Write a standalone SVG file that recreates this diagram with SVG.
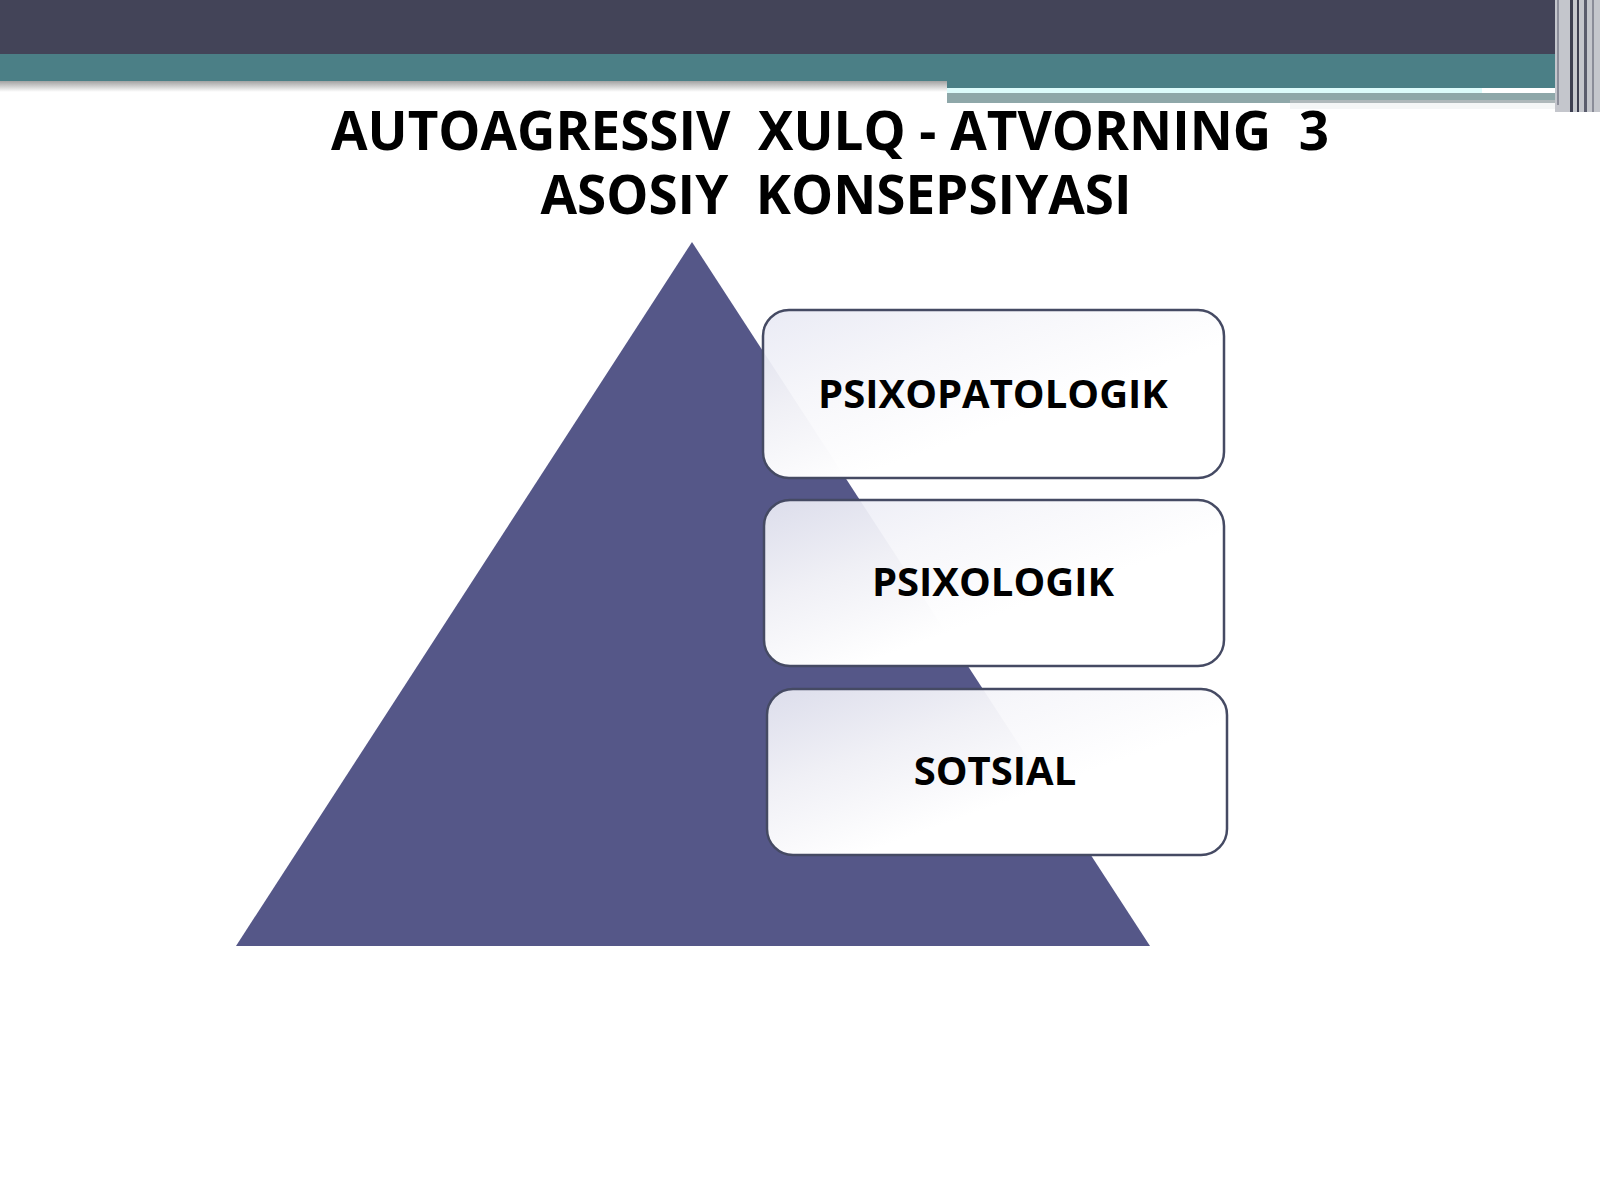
<svg xmlns="http://www.w3.org/2000/svg" width="1600" height="1200" viewBox="0 0 1600 1200">
<style>
.title{font-family:"Open Sans","Noto Sans","DejaVu Sans",sans-serif;font-weight:bold;font-size:53px;fill:#000;text-anchor:middle;white-space:pre}
.lbl{font-family:"Open Sans","Noto Sans","DejaVu Sans",sans-serif;font-weight:bold;font-size:40px;fill:#000;text-anchor:middle}
.box{stroke:#454a63;stroke-width:2.5;fill:url(#boxg)}
</style>
<defs>
<linearGradient id="boxg" x1="0" y1="0" x2="1" y2="1">
<stop offset="0" stop-color="#e8e9f4" stop-opacity="0.92"/>
<stop offset="0.3" stop-color="#f6f6fa" stop-opacity="0.96"/>
<stop offset="0.6" stop-color="#ffffff" stop-opacity="1"/>
<stop offset="1" stop-color="#ffffff" stop-opacity="1"/>
</linearGradient>
<linearGradient id="shadow" x1="0" y1="0" x2="0" y2="1">
<stop offset="0" stop-color="#9a9a9a"/>
<stop offset="1" stop-color="#ffffff"/>
</linearGradient>
</defs>
<rect width="1600" height="1200" fill="#ffffff"/>
<g id="header">
<rect x="0" y="80" width="947" height="12" fill="url(#shadow)"/>
<rect x="0" y="0" width="1600" height="54" fill="#434458"/>
<rect x="0" y="54" width="1600" height="27" fill="#4b7f86"/>
<rect x="947" y="80" width="610" height="8" fill="#4a7f86"/>
<rect x="947" y="88" width="535" height="5" fill="#dcfbfb"/>
<rect x="947" y="93" width="610" height="10" fill="#8ea7a9"/>
<rect x="1290" y="100" width="267" height="3" fill="#aeb8ba"/>
<rect x="1290" y="103" width="267" height="6" fill="#f4f6f6"/>
<rect x="1555" y="0" width="45" height="112" fill="#c4c6cc"/>
<rect x="1557" y="0" width="2" height="105" fill="#8c8e9a"/>
<rect x="1570" y="0" width="3" height="112" fill="#3c3e50"/>
<rect x="1577" y="0" width="2" height="112" fill="#3c3e50"/>
<rect x="1584" y="0" width="3" height="112" fill="#5a5c6c"/>
<rect x="1592" y="0" width="2" height="112" fill="#8a8c98"/>
</g>
<g id="title">
<text class="title" xml:space="preserve" x="830" y="150">AUTOAGRESSIV  XULQ - ATVORNING  3</text>
<text class="title" xml:space="preserve" x="836" y="214">ASOSIY  KONSEPSIYASI</text>
</g>
<g id="pyramid">
<polygon points="692,242 1150,946 236,946" fill="#555788"/>
</g>
<g id="connectors"></g>
<g id="node-psixopatologik">
<rect class="box" x="763" y="310" width="461" height="168" rx="26"/>
<text class="lbl" x="993" y="408">PSIXOPATOLOGIK</text>
</g>
<g id="node-psixologik">
<rect class="box" x="764" y="500" width="460" height="166" rx="26"/>
<text class="lbl" x="993" y="596">PSIXOLOGIK</text>
</g>
<g id="node-sotsial">
<rect class="box" x="767" y="689" width="460" height="166" rx="26"/>
<text class="lbl" x="995" y="785">SOTSIAL</text>
</g>
</svg>
